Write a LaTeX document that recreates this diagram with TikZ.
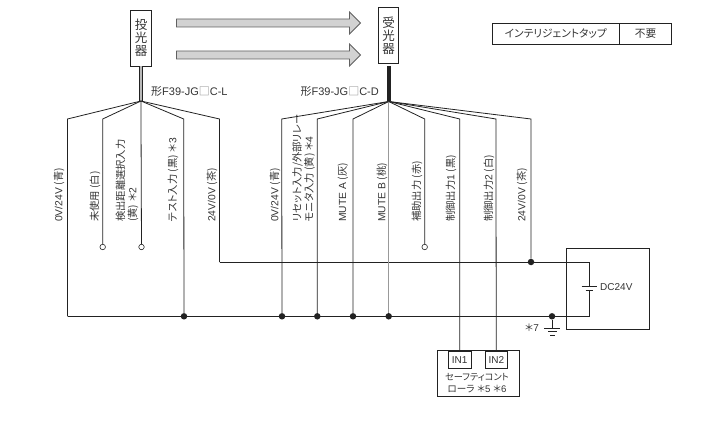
\documentclass[tikz,border=0pt]{standalone}
\usepackage{fontspec}
\setmainfont{Liberation Sans}
\newfontfamily\jpfont[RawFeature=+palt]{Noto Sans CJK JP}
\newcommand{\jp}[1]{{\jpfont #1}}
\newcommand{\ster}{\jp{＊}}
\usetikzlibrary{positioning,shapes.arrows}
\definecolor{inkgray}{HTML}{222222}
\definecolor{textgray}{HTML}{333333}
\tikzset{
    wire/.style={draw=inkgray,line width=0.8pt},
    dot/.style={circle,fill=inkgray,inner sep=0pt,minimum size=6.5pt},
    term/.style={circle,draw=inkgray,fill=white,line width=0.6pt,inner sep=0pt,minimum size=5.5pt},
    unitbox/.style={draw=inkgray,fill=white,line width=0.8pt,inner sep=0pt,align=center,minimum width=20.5pt,minimum height=56pt,text=textgray,font=\fontsize{12.5}{12.8}\selectfont},
    wirelabel/.style={rotate=90,anchor=west,inner sep=0pt,align=left,text=textgray,font=\fontsize{10.3}{12}\selectfont},
    smalltext/.style={inner sep=0pt,text=textgray,font=\fontsize{10}{12}\selectfont},
    tabcell/.style={draw=inkgray,line width=0.8pt,minimum height=21pt,inner sep=0pt,outer sep=0pt,text=textgray,font=\fontsize{10.7}{12}\selectfont},
    beam/.style={single arrow,draw=gray!75!black,fill=gray!35,line width=0.8pt,inner sep=3.6pt,minimum width=21.5pt,minimum height=184pt,single arrow head extend=7pt},
}
\begin{document}
\begin{tikzpicture}[x=1pt,y=-1pt]
    \useasboundingbox (0,0) rectangle (702,433);

    % units and beams
    \node[unitbox] (emitter) at (141,38) {\jp{投}\\\jp{光}\\\jp{器}};
    \node[unitbox] (receiver) at (388.5,35.5) {\jp{受}\\\jp{光}\\\jp{器}};
    \node[beam] (beamup) at (266.5,23) {};
    \node[beam] (beamlow) at (266.5,55) {};
    \node[tabcell,minimum width=127pt] (tapname) at (555.8,33.8) {\jp{インテリジェントタップ}};
    \node[tabcell,minimum width=52.5pt,right=0pt of tapname] (tapvalue) {\jp{不要}};

    % cables
    \coordinate (emitfan) at (141,101);
    \coordinate (recvfan) at (388.7,101.5);
    \coordinate (recvtop) at (388.7,66);
    \draw[draw=inkgray,line width=0.7pt,double=gray!55,double distance=2.2pt] (emitter.south) -- (emitfan);
    \draw[draw=inkgray,line width=4pt] (recvtop) -- (recvfan);
    \node[smalltext,anchor=west,font=\fontsize{11}{12}\selectfont] (emitname) at (151,91) {\jp{形}F39-JG\jp{\textcolor{gray}{□}}C-L};
    \node[smalltext,anchor=east,font=\fontsize{11}{12}\selectfont] (recvname) at (379,91) {\jp{形}F39-JG\jp{\textcolor{gray}{□}}C-D};

    % supply and junctions
    \node[draw=inkgray,line width=0.8pt,minimum width=83pt,minimum height=81pt,inner sep=0pt] (supply) at (607.5,288.5) {};
    \foreach \n/\x in {a/184,b/282,c/317.3,d/353,e/388.7,f/552}
        \node[dot] (bus\n) at (\x,316.3) {};
    \node[dot] (plus) at (531,262) {};
    \coordinate (busleft) at (67.5,316.3);
    \coordinate (posleft) at (219.5,262);
    \coordinate (batpos) at (589,262);
    \coordinate (batneg) at (589,316.3);
    \coordinate (plateup) at (589,286.3);
    \coordinate (platelow) at (589,290);
    \draw[wire] (posleft) -- (plus) -- (batpos) -- (plateup);
    \draw[wire] (busleft) -- (busf) -- (batneg) -- (platelow);
    \draw[wire] (581.5,286.3) -- (596.5,286.3);
    \draw[wire] (585.5,290) -- (593,290);
    \node[smalltext,anchor=west] (dcvolt) at (600,287) {DC24V};

    % ground
    \coordinate (gnd) at (552,328);
    \draw[wire] (busf) -- (gnd);
    \draw[wire] (544,328) -- (560,328);
    \draw[wire] (548,331.5) -- (556.5,331.5);
    \draw[wire] (550,335) -- (555,335);
    \node[smalltext] (gndmark) at (532,328) {\ster7};

    % controller
    \node[draw=inkgray,line width=0.8pt,minimum width=82pt,minimum height=46pt,inner sep=0pt] (safety) at (478,373) {};
    \node[draw=inkgray,line width=0.8pt,minimum width=22.5pt,minimum height=17.5pt,inner sep=0pt,smalltext] (inone) at (459.7,360) {IN1};
    \node[draw=inkgray,line width=0.8pt,minimum width=22.5pt,minimum height=17.5pt,inner sep=0pt,smalltext] (intwo) at (496.3,360) {IN2};
    \node[smalltext,font=\fontsize{9.2}{11}\selectfont] (safetyup) at (477,377.5) {\jp{セーフティコント}};
    \node[smalltext,font=\fontsize{9.6}{11}\selectfont] (safetylow) at (477,389) {\jp{ローラ} \ster5 \ster6};

    % emitter wires
    \foreach \n/\x in {a/67.5,b/102.7,c/141,d/183.7,e/219.5}
        \coordinate (ebend\n) at (\x,119);
    \node[term] (termb) at (102.7,247) {};
    \node[term] (termc) at (141.5,247) {};
    \draw[wire] (emitfan) -- (ebenda) -- (busleft);
    \draw[wire] (emitfan) -- (ebendb) -- (termb);
    \draw[wire] (emitfan) -- (ebendc) -- (termc);
    \draw[wire] (emitfan) -- (ebendd) -- (busa);
    \draw[wire] (emitfan) -- (ebende) -- (posleft);

    % receiver wires
    \foreach \n/\x in {a/281.7,b/317.3,c/353,d/388.7,e/424.7,f/459.7,g/495.9,h/531}
        \coordinate (rbend\n) at (\x,119);
    \node[term] (terme) at (424.7,247) {};
    \draw[wire] (recvfan) -- (rbenda) -- (busb);
    \draw[wire] (recvfan) -- (rbendb) -- (busc);
    \draw[wire] (recvfan) -- (rbendc) -- (busd);
    \draw[wire,draw=gray!80] (recvfan) -- (rbendd) -- (buse);
    \draw[wire] (recvfan) -- (rbende) -- (terme);
    \draw[wire] (recvfan) -- (rbendf) -- (inone);
    \draw[wire] (recvfan) -- (rbendg) -- (intwo);
    \draw[wire] (recvfan) -- (rbendh) -- (plus);

    % wire labels
    \node[wirelabel] (la) at (59,222) {0V/24V \jp{(青)}};
    \node[wirelabel] (lb) at (95,222) {\jp{未使用 (白)}};
    \node[wirelabel] (lc) at (127,222) {\jp{検出距離選択入力}\\\jp{(黄)} \ster2};
    \node[wirelabel] (ld) at (173,222) {\jp{テスト入力 (黒)} \ster3};
    \node[wirelabel] (le) at (212,222) {24V/0V \jp{(茶)}};
    \node[wirelabel] (ra) at (275,222) {0V/24V \jp{(青)}};
    \node[wirelabel] (rb) at (303.5,222) {\jp{リセット入力/外部リレー}\\\jp{モニタ入力 (黄)} \ster4};
    \node[wirelabel] (rc) at (343,222) {MUTE A \jp{(灰)}};
    \node[wirelabel] (rd) at (382,222) {MUTE B \jp{(桃)}};
    \node[wirelabel] (re) at (417,222) {\jp{補助出力 (赤)}};
    \node[wirelabel] (rf) at (451,222) {\jp{制御出力}1 \jp{(黒)}};
    \node[wirelabel] (rg) at (489,222) {\jp{制御出力}2 \jp{(白)}};
    \node[wirelabel] (rh) at (522,222) {24V/0V \jp{(茶)}};
\end{tikzpicture}
\end{document}
